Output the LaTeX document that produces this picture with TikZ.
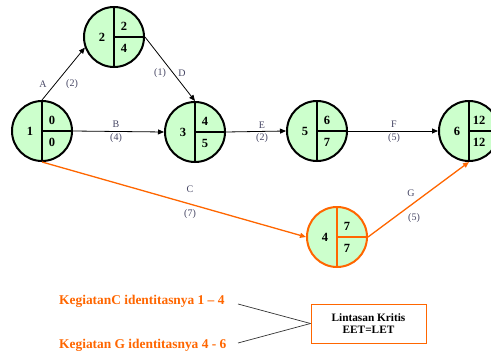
\documentclass[tikz,border=0pt]{standalone}
\usepackage{fontspec}
\setmainfont{Liberation Serif}
\usetikzlibrary{arrows.meta,calc}
\definecolor{orng}{RGB}{255,102,0}
\definecolor{grn}{RGB}{204,255,204}
\definecolor{lbl}{RGB}{70,70,100}
\newcommand\evtnode[7]{% name, position, colour, id, EET, LET
  \node[ev,draw=#3] (#1) at #2 {};
  \draw[line width=1.5pt,draw=#3] (#1.north) -- (#1.south) (#1.center) -- (#1.east);
  \node[num] (#1-id) at ($(#1.center)+(-12,0)$) {#4};
  \node[num] (#1-e) at ($(#1.center)+(10,-11)$) {#5};
  \node[num] (#1-l) at ($(#1.center)+(10,11)$) {#6};
}
\begin{document}
\begin{tikzpicture}[x=1pt,y=-1pt,
  ev/.style={circle,line width=2pt,fill=grn,minimum size=60pt,inner sep=0pt},
  num/.style={font=\fontsize{12.5}{12.5}\selectfont\bfseries,inner sep=0pt},
  lab/.style={font=\fontsize{10}{10}\selectfont,text=lbl,inner sep=0pt},
  act/.style={-{Triangle[length=6pt,width=5pt]},line width=0.8pt,draw=black},
  cact/.style={-{Triangle[length=6pt,width=5pt]},line width=1.3pt,draw=orng,fill=orng},
  note/.style={font=\fontsize{13.4}{13.4}\selectfont\bfseries,text=orng,inner sep=0pt,anchor=west},
  kbox/.style={draw=orng,line width=1pt,minimum width=115pt,minimum height=39pt,align=center,font=\fontsize{11.3}{12.5}\selectfont\bfseries,inner sep=0pt},
  link/.style={line width=0.7pt,draw=black!80}
]
\useasboundingbox (0,0) rectangle (491,351);
\evtnode{n1}{(42,131)}{black}{1}{0}{0}{}
\evtnode{n2}{(114,37)}{black}{2}{2}{4}{}
\evtnode{n3}{(195,132)}{black}{3}{4}{5}{}
\evtnode{n5}{(317,131)}{black}{5}{6}{7}{}
\evtnode{n6}{(469,131)}{black}{6}{12}{12}{}
\evtnode{n4}{(337,237)}{orng}{4}{7}{7}{}
% activities
\draw[act] (n1.north) -- (n2.200);
\draw[act] (n2.east) -- (n3.north);
\draw[act] (n1.east) -- (n3.west);
\draw[act] (n3.east) -- (n5.west);
\draw[act] (n5.east) -- (n6.west);
\draw[cact] (n1.south) -- (n4.west);
\draw[cact] (n4.east) -- (n6.south);
% labels
\node[lab] (lA) at (43,84) {A};
\node[lab] (dA) at (72,84) {(2)};
\node[lab] (dD) at (160,73) {(1)};
\node[lab] (lD) at (182,73) {D};
\node[lab] (lB) at (116,124) {B};
\node[lab] (dB) at (116,138) {(4)};
\node[lab] (lE) at (262,125) {E};
\node[lab] (dE) at (262,138) {(2)};
\node[lab] (lF) at (394,124) {F};
\node[lab] (dF) at (394,138) {(5)};
\node[lab] (lC) at (190,189) {C};
\node[lab] (dC) at (190,214) {(7)};
\node[lab] (lG) at (411,193) {G};
\node[lab] (dG) at (414,218) {(5)};
% notes
\node[note] (t1) at (59,301) {KegiatanC identitasnya 1 – 4};
\node[note] (t2) at (59,345) {Kegiatan G identitasnya 4 - 6};
\node[kbox] (kr) at (368.5,323.5) {Lintasan Kritis\\EET=LET};
\coordinate (c1) at (238,304);
\coordinate (c2) at (238,343);
\draw[link] (c1) -- (kr.west);
\draw[link] (c2) -- (kr.west);
\end{tikzpicture}
\end{document}
